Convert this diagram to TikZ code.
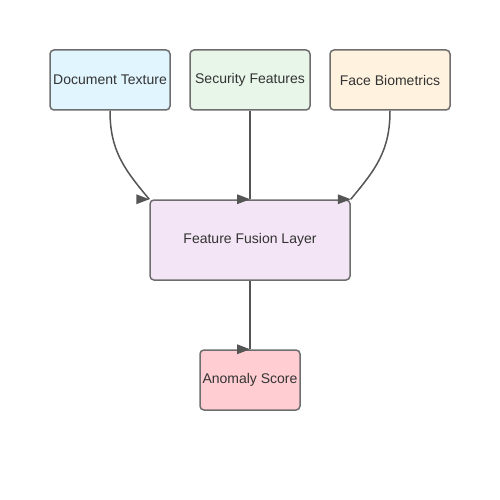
\documentclass[tikz,border=0pt]{standalone}
\usepackage{fontspec}
\setmainfont{Liberation Sans}
\begin{document}
\begin{tikzpicture}[x=1pt,y=-1pt,
  box/.style={draw=boxline,line width=1.5pt,rounded corners=4pt,inner sep=0pt,
    text=textc,font=\fontsize{14pt}{16pt}\selectfont},
  conn/.style={draw=linec,line width=1.5pt},
  headc/.style={fill=headcol}]
\definecolor{boxline}{HTML}{6E6E6E}
\definecolor{linec}{HTML}{555555}
\definecolor{headcol}{HTML}{555555}
\definecolor{textc}{HTML}{333333}
\definecolor{cblue}{HTML}{E1F5FE}
\definecolor{cgreen}{HTML}{E8F5E9}
\definecolor{corange}{HTML}{FFF3E0}
\definecolor{cpurple}{HTML}{F3E5F5}
\definecolor{cred}{HTML}{FFCDD2}
\useasboundingbox (0,0) rectangle (500,500);
\fill[white] (0,0) rectangle (500,500);
\node[box,fill=cblue,minimum width=120pt,minimum height=60pt] (doc) at (110,80) {Document Texture};
\node[box,fill=cgreen,minimum width=120pt,minimum height=60pt] (sec) at (250,80) {Security Features};
\node[box,fill=corange,minimum width=120pt,minimum height=60pt] (face) at (390,80) {Face Biometrics};
\node[box,fill=cpurple,minimum width=200pt,minimum height=80pt] (fus) at (250,240) {Feature Fusion Layer};
\node[box,fill=cred,minimum width=100pt,minimum height=60pt] (ano) at (250,380) {Anomaly Score};
\draw[conn] (doc.south) .. controls ++(0,40) and ++(-25,-30) .. (fus.north west);
\draw[conn] (sec.south) -- (fus.north);
\draw[conn] (face.south) .. controls ++(0,40) and ++(25,-30) .. (fus.north east);
\draw[conn] (fus.south) -- (ano.north);
\fill[headc] (fus.north west) -- ++(-13,5) -- ++(0,-10) -- cycle;
\fill[headc] (fus.north) -- ++(-13,5) -- ++(0,-10) -- cycle;
\fill[headc] (fus.north east) -- ++(-13,5) -- ++(0,-10) -- cycle;
\fill[headc] (ano.north) -- ++(-13,5) -- ++(0,-10) -- cycle;
\end{tikzpicture}
\end{document}
